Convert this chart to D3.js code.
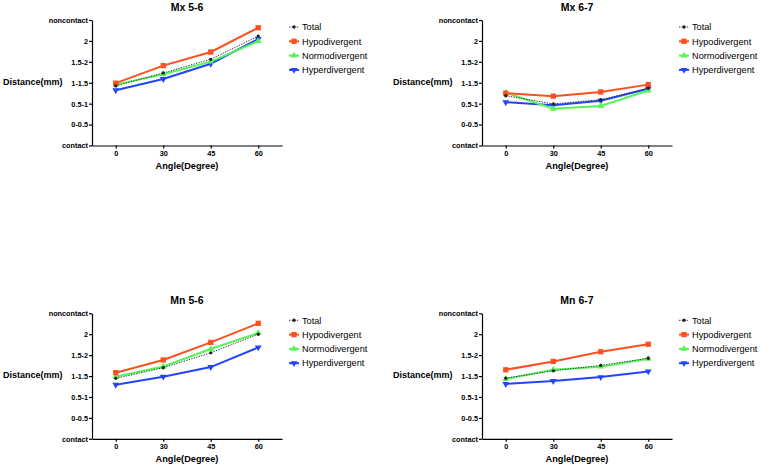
<!DOCTYPE html>
<html>
<head>
<meta charset="utf-8">
<script src="https://cdn.jsdelivr.net/npm/d3@7"></script>
<style>
  body { margin: 0; background: #fff; }
  text { font-family: "Liberation Sans", Arial, sans-serif; }
</style>
</head>
<body>
<div id="container"></div>
<script>
// angles on the x axis
const angles = ['0', '30', '45', '60'];
// y categories, bottom to top
const yLabels = ['contact', '0-0.5', '0.5-1', '1-1.5', '1.5-2', '2', 'noncontact'];
const seriesNames = ['Total', 'Hypodivergent', 'Normodivergent', 'Hyperdivergent'];
const panelTitles = ['Mx 5-6', 'Mx 6-7', 'Mn 5-6', 'Mn 6-7'];

// values (0 = contact, 6 = noncontact)
const mx56_total = [2.85, 3.47, 4.12, 5.23];
const mx56_hypo  = [2.98, 3.82, 4.47, 5.63];
const mx56_normo = [2.91, 3.41, 4.01, 4.99];
const mx56_hyper = [2.64, 3.18, 3.91, 5.09];

const mx67_total = [2.38, 1.99, 2.19, 2.74];
const mx67_hypo  = [2.50, 2.36, 2.56, 2.91];
const mx67_normo = [2.53, 1.76, 1.89, 2.63];
const mx67_hyper = [2.07, 1.92, 2.14, 2.71];

const mn56_total = [2.89, 3.40, 4.11, 5.00];
const mn56_hypo  = [3.16, 3.77, 4.61, 5.52];
const mn56_normo = [2.97, 3.46, 4.29, 5.06];
const mn56_hyper = [2.58, 2.97, 3.43, 4.37];

const mn67_total = [2.90, 3.25, 3.51, 3.85];
const mn67_hypo  = [3.30, 3.70, 4.16, 4.52];
const mn67_normo = [2.86, 3.30, 3.45, 3.83];
const mn67_hyper = [2.62, 2.76, 2.95, 3.22];

const panelData = [
  [mx56_total, mx56_hypo, mx56_normo, mx56_hyper],
  [mx67_total, mx67_hypo, mx67_normo, mx67_hyper],
  [mn56_total, mn56_hypo, mn56_normo, mn56_hyper],
  [mn67_total, mn67_hypo, mn67_normo, mn67_hyper]
];

const colors = ['#222', '#ff4f1f', '#55f555', '#2244ff'];
const offsets = [[0, 0], [390, 0], [0, 293.3], [390, 293.3]];

const svg = d3.select('#container').append('svg')
  .attr('width', 760)
  .attr('height', 468)
  .style('background-color', '#fff');

const x = d3.scalePoint().domain(angles).range([92, 282]).padding(0.5);
const y = d3.scaleLinear().domain([0, 6]).range([145.5, 20]);

const symFor = (i) => {
  if (i === 0) return d3.symbol().type(d3.symbolCircle).size(9);
  if (i === 1) return d3.symbol().type(d3.symbolSquare).size(28);
  return d3.symbol().type(d3.symbolTriangle).size(20);
};

const drawPanel = (p) => {
  const g = svg.append('g')
    .attr('transform', `translate(${offsets[p][0]},${offsets[p][1]})`);

  g.append('text')
    .attr('x', 187).attr('y', 11)
    .attr('text-anchor', 'middle')
    .attr('font-size', 10.5).attr('font-weight', 'bold')
    .text(panelTitles[p]);

  const yAxis = g.append('g')
    .attr('transform', 'translate(92,0)')
    .call(d3.axisLeft(y).tickValues(d3.range(7))
      .tickFormat(d => yLabels[d]).tickSize(3).tickPadding(1).tickSizeOuter(0));
  const xAxis = g.append('g')
    .attr('transform', 'translate(0,145.5)')
    .call(d3.axisBottom(x).tickSize(3).tickPadding(2).tickSizeOuter(0));

  [yAxis, xAxis].forEach(a => {
    a.selectAll('path, line').attr('stroke', '#000').attr('stroke-width', 1.2);
    a.selectAll('text').attr('font-size', 7.3).attr('font-weight', 'bold')
      .attr('fill', '#000').style('font-family', '"Liberation Sans", Arial, sans-serif');
  });

  g.append('text')
    .attr('x', 3).attr('y', 85)
    .attr('font-size', 9).attr('font-weight', 'bold')
    .text('Distance(mm)');

  g.append('text')
    .attr('x', 187).attr('y', 168.5)
    .attr('text-anchor', 'middle')
    .attr('font-size', 9.2).attr('font-weight', 'bold')
    .text('Angle(Degree)');

  const line = d3.line()
    .x((d, i) => x(angles[i]))
    .y(d => y(d));

  // colored series first, Total dotted on top
  [3, 2, 1, 0].forEach(si => {
    const vals = panelData[p][si];
    g.append('path')
      .datum(vals)
      .attr('fill', 'none')
      .attr('stroke', si === 0 ? '#333' : colors[si])
      .attr('stroke-width', si === 0 ? 1 : 2)
      .attr('stroke-dasharray', si === 0 ? '1.3,1.3' : null)
      .attr('d', line);
    g.selectAll(null)
      .data(vals)
      .enter().append('path')
      .attr('d', symFor(si))
      .attr('fill', colors[si])
      .attr('transform', (d, i) =>
        `translate(${x(angles[i])},${y(d)})` + (si === 3 ? ' rotate(180)' : ''));
  });

  // legend
  seriesNames.forEach((name, si) => {
    const ly = 27 + si * 14.3;
    g.append('line')
      .attr('x1', 289).attr('x2', 299)
      .attr('y1', ly).attr('y2', ly)
      .attr('stroke', si === 0 ? '#333' : colors[si])
      .attr('stroke-width', si === 0 ? 1 : 2)
      .attr('stroke-dasharray', si === 0 ? '1.3,1.3' : null);
    g.append('path')
      .attr('d', symFor(si))
      .attr('fill', colors[si])
      .attr('transform', `translate(294,${ly})` + (si === 3 ? ' rotate(180)' : ''));
    g.append('text')
      .attr('x', 302).attr('y', ly + 3.3)
      .attr('font-size', 9.2)
      .text(name);
  });
};

panelTitles.forEach((t, p) => drawPanel(p));
</script>
</body>
</html>
